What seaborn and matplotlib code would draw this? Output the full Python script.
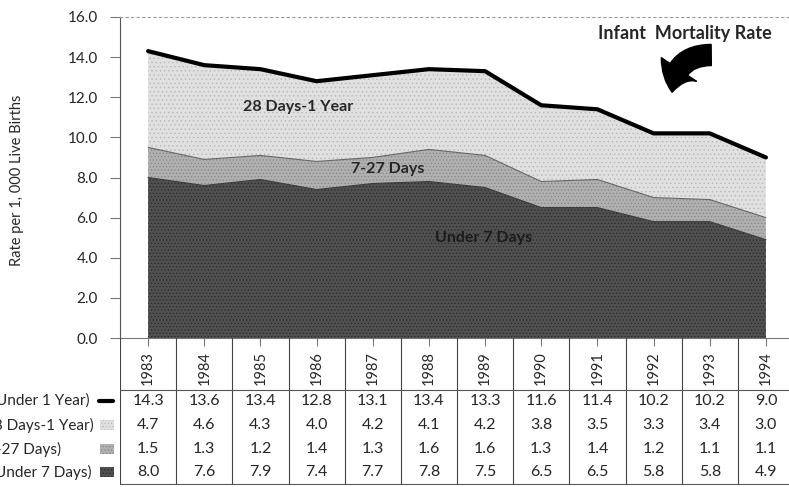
import numpy as np
import matplotlib.pyplot as plt
import seaborn as sns
from matplotlib.patches import FancyArrowPatch, Rectangle
from matplotlib.lines import Line2D

# --- dados (taxa por 1.000 nascidos vivos) ---
years = [1983, 1984, 1985, 1986, 1987, 1988, 1989, 1990, 1991, 1992, 1993, 1994]
under_1_year = [14.3, 13.6, 13.4, 12.8, 13.1, 13.4, 13.3, 11.6, 11.4, 10.2, 10.2, 9.0]
days_28_1_year = [4.7, 4.6, 4.3, 4.0, 4.2, 4.1, 4.2, 3.8, 3.5, 3.3, 3.4, 3.0]
days_7_27 = [1.5, 1.3, 1.2, 1.4, 1.3, 1.6, 1.6, 1.3, 1.4, 1.2, 1.1, 1.1]
under_7_days = [8.0, 7.6, 7.9, 7.4, 7.7, 7.8, 7.5, 6.5, 6.5, 5.8, 5.8, 4.9]

row_labels = ['(Under 1 Year)', '(28 Days-1 Year)', '(7-27 Days)', '(Under 7 Days)']
y_ticks = [0, 2, 4, 6, 8, 10, 12, 14, 16]

sns.set_theme(style='white')
plt.rcParams['font.family'] = ['Lato', 'DejaVu Sans']
plt.rcParams['hatch.linewidth'] = 0.5

W, H = 789, 487
fig = plt.figure(figsize=(W / 100, H / 100), dpi=100)


def fx(px):
    return px / W


def fy(py):
    return 1 - py / H


# cores / texturas das camadas
c_dark = ('#505050', '#2a2a2a')
c_mid = ('#b0b0b0', '#858585')
c_light = ('#e0e0e0', '#b8b8b8')

x = np.arange(len(years))
b1 = np.array(under_7_days)
b2 = b1 + np.array(days_7_27)

# --- grafico de area empilhada ---
ax = fig.add_axes([fx(120), fy(338), fx(674), (338 - 17) / H])
ax.fill_between(x, 0, b1, facecolor=c_dark[0], edgecolor=c_dark[1], hatch='.....', lw=0)
ax.fill_between(x, b1, b2, facecolor=c_mid[0], edgecolor=c_mid[1], hatch='.....', lw=0)
ax.fill_between(x, b2, under_1_year, facecolor=c_light[0], edgecolor=c_light[1], hatch='....', lw=0)
ax.plot(x, b1, color='#3a3a3a', lw=0.8)
ax.plot(x, b2, color='#666666', lw=0.8)
sns.lineplot(x=x, y=under_1_year, color='black', lw=3, ax=ax)

ax.set_xlim(-0.5, 11.5)
ax.set_ylim(0, 16)
ax.set_yticks(y_ticks)
ax.set_yticklabels([f'{v:.1f}' for v in y_ticks])
ax.set_xticks(x)
ax.set_xticklabels([])
ax.tick_params(axis='y', direction='out', length=7, width=0.8, color='#777777',
               labelsize=11, pad=9, left=True)
ax.tick_params(axis='x', direction='out', length=6, width=0.8, color='#777777', bottom=True)
ax.spines['right'].set_visible(False)
ax.spines['top'].set_linestyle((0, (2, 3)))
ax.spines['top'].set_color('#999999')
ax.spines['top'].set_linewidth(0.8)
ax.spines['left'].set_color('#555555')
ax.spines['left'].set_linewidth(0.8)
ax.spines['bottom'].set_color('#777777')
ax.spines['bottom'].set_linewidth(0.8)
ax.set_ylabel('Rate per 1, 000 Live Births', fontsize=10.5)
ax.yaxis.set_label_coords(-(120 - 24) / 674, (338 - 180) / 321)

ax.text(2.67, 11.5, '28 Days-1 Year', fontsize=11.5, fontweight='bold', ha='center', va='center')
ax.text(4.27, 8.4, '7-27 Days', fontsize=11.5, fontweight='bold', ha='center', va='center')
ax.text(5.98, 5.0, 'Under 7 Days', fontsize=11.5, fontweight='bold', ha='center', va='center',
        color='#1c1c1c')

# titulo e seta
fig.text(fx(598), fy(33), 'Infant  Mortality Rate', fontsize=13, fontweight='bold',
         ha='left', va='center')
arrow = FancyArrowPatch((fx(714), fy(55)), (fx(672), fy(95)), transform=fig.transFigure,
                        connectionstyle='arc3,rad=0.5',
                        arrowstyle='simple,head_length=0.9,head_width=1.6,tail_width=0.8',
                        mutation_scale=19, color='black')
fig.add_artist(arrow)

# --- tabela de dados ---
axt = fig.add_axes([fx(120), fy(485), fx(674), (485 - 338) / H])
axt.set_xlim(-0.5, 11.5)
axt.set_ylim(485, 338)
axt.axis('off')
for b in np.arange(-0.5, len(years), 1):
    axt.axvline(b, color='#444444', lw=0.8)
axt.axhline(390, color='#555555', lw=0.8)
axt.axhline(484, color='#555555', lw=0.8)

row_y = [401, 425, 449, 472]
for i, yr in enumerate(years):
    axt.text(i, 368, str(yr), rotation=90, ha='center', va='center', fontsize=10.5)
for r, vals in enumerate([under_1_year, days_28_1_year, days_7_27, under_7_days]):
    for i, v in enumerate(vals):
        axt.text(i, row_y[r], f'{v:.1f}', ha='center', va='center', fontsize=11.5)

# rotulos das linhas e legendas (cortados na margem esquerda, como no original)
label_right = [90, 94, 61, 92]
for r, lab in enumerate(row_labels):
    fig.text(fx(label_right[r]), fy(row_y[r]), lab, ha='right', va='center', fontsize=11)

fig.add_artist(Line2D([fx(99), fx(113)], [fy(row_y[0])] * 2, color='black', lw=3,
                      transform=fig.transFigure))
for r, col in zip([1, 2, 3], [c_light, c_mid, c_dark]):
    fig.add_artist(Rectangle((fx(100), fy(row_y[r] + 5)), fx(14), 10 / H,
                             facecolor=col[0], edgecolor=col[1], hatch='.....', lw=0,
                             transform=fig.transFigure))

fig.savefig('out.png', dpi=100)
